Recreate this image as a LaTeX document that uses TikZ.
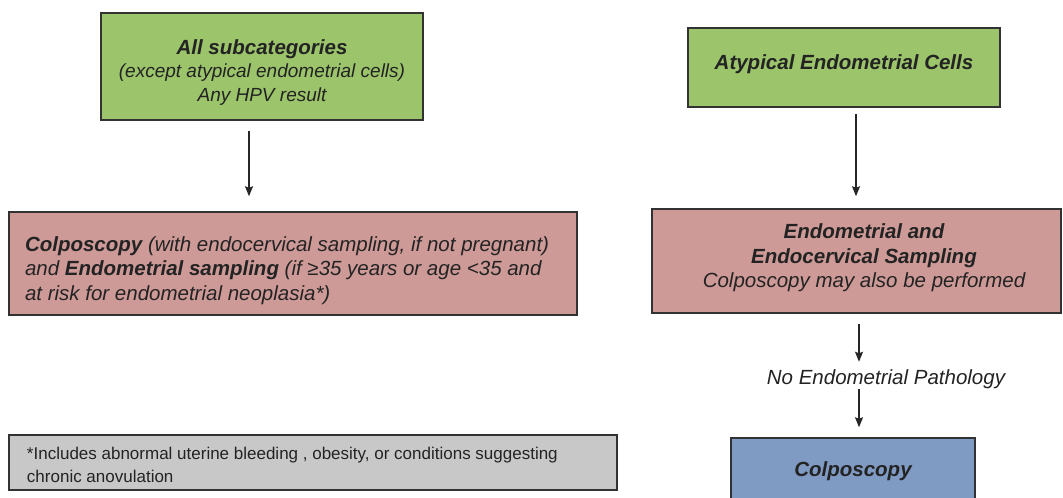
\documentclass[tikz,border=0pt]{standalone}
\usepackage{fontspec}
\setmainfont{Liberation Sans}
\usetikzlibrary{arrows.meta}
\definecolor{boxgreen}{RGB}{155,196,107}
\definecolor{boxpink}{RGB}{205,154,151}
\definecolor{boxblue}{RGB}{128,155,195}
\definecolor{boxgray}{RGB}{200,200,200}
\definecolor{edge}{RGB}{50,50,50}
\definecolor{ink}{RGB}{35,35,35}
\newcommand{\shiftbox}[3]{\raisebox{#1}[\height][\depth]{\parbox{#2}{#3}}}
\begin{document}
\begin{tikzpicture}[x=1pt,y=-1pt,
  box/.style={draw=edge, line width=1.5pt, inner sep=0pt, text=ink},
  arr/.style={-{Stealth[length=10pt,width=8pt,inset=1.5pt]}, line width=1.2pt, draw=black!85},
  big/.style={font=\fontsize{20.5}{24.5}\selectfont\itshape}]
\useasboundingbox (0,0) rectangle (1063,498);

\node[box, fill=boxgreen, minimum width=322pt, minimum height=107pt] (g1) at (262,66.5)
 {\shiftbox{-6pt}{300pt}{\centering\itshape
   \fontsize{20.5}{24}\selectfont\bfseries All subcategories\\
   \fontsize{19}{23.5}\selectfont\mdseries (except atypical endometrial cells)\\ Any HPV result}};

\node[box, fill=boxpink, minimum width=568pt, minimum height=103pt] (p1) at (293,263.5)
 {\shiftbox{-7pt}{536pt}{\raggedright\itshape\fontsize{20.5}{24.5}\selectfont
  \textbf{Colposcopy} (with endocervical sampling, if not pregnant)\\
  and \textbf{Endometrial sampling} (if ≥35 years or age <35 and\\
  at risk for endometrial neoplasia*)}};

\node[box, fill=boxgreen, minimum width=312pt, minimum height=79pt] (g2) at (844,67.5)
 {\shiftbox{3pt}{290pt}{\centering\itshape\bfseries\fontsize{20.5}{24.5}\selectfont Atypical Endometrial Cells}};

\node[box, fill=boxpink, minimum width=409pt, minimum height=104pt] (p2) at (856.5,261)
 {\kern15pt\shiftbox{3pt}{380pt}{\centering\itshape\fontsize{20.5}{24.5}\selectfont
  \textbf{Endometrial and}\\ \textbf{Endocervical Sampling}\\ Colposcopy may also be performed}};

\node[inner sep=0pt, text=ink, big] (lbl) at (886,379) {No Endometrial Pathology};

\node[box, fill=boxblue, minimum width=244pt, minimum height=64pt] (c) at (853,470)
 {\raisebox{-1pt}[\height][\depth]{\itshape\bfseries\fontsize{20.5}{24.5}\selectfont Colposcopy}};

\node[box, fill=boxgray, minimum width=608pt, minimum height=55pt] (n) at (313,462.5)
 {\shiftbox{-2pt}{572pt}{\raggedright\fontsize{17}{23}\selectfont
  *Includes abnormal uterine bleeding , obesity, or conditions suggesting\\ chronic anovulation}};

\draw[arr, shorten <=10pt, shorten >=15pt] ([xshift=-13pt]g1.south) -- ([xshift=-13pt]g1.south |- p1.north);
\draw[arr, shorten <=6pt, shorten >=12pt] ([xshift=12pt]g2.south) -- ([xshift=12pt]g2.south |- p2.north);
\draw[arr, shorten <=10pt, shorten >=7.5pt] ([xshift=2.5pt]p2.south) -- ([xshift=2.5pt]p2.south |- lbl.north);
\draw[arr, shorten >=10pt] ([xshift=2.5pt]p2.south |- lbl.south) -- ([xshift=2.5pt]p2.south |- c.north);
\end{tikzpicture}
\end{document}
